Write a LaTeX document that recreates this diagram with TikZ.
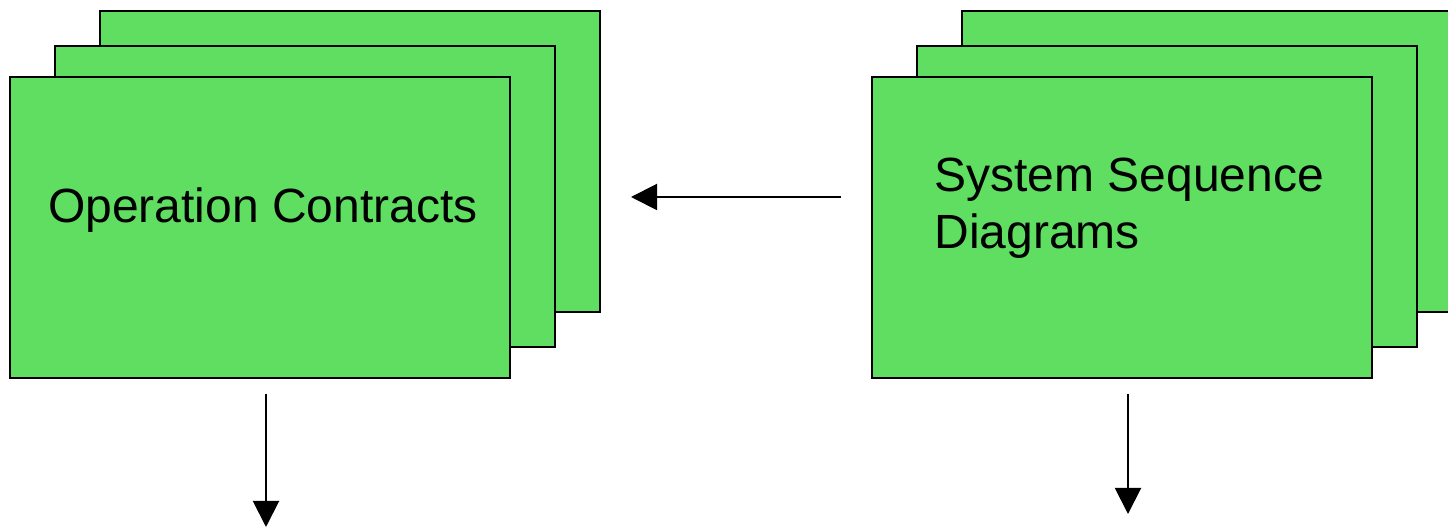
\documentclass[tikz,border=0pt]{standalone}
\usepackage{fontspec}
\setmainfont{Liberation Sans}
\usetikzlibrary{arrows.meta}
\definecolor{sheetgreen}{HTML}{5FDE62}

\begin{document}
\begin{tikzpicture}[x=0.5pt, y=-0.5pt,
  sheet/.style={draw, line width=1pt, fill=sheetgreen, minimum width=250pt, minimum height=150.5pt, inner sep=0pt},
  flow/.style={line width=1pt, -{Triangle[length=13pt, width=13pt]}},
  lbl/.style={font=\fontsize{24}{28.5}\selectfont, inner sep=0pt}]
  \useasboundingbox (0,0) rectangle (1448,528);
  \clip (0,0) rectangle (1448,528);
  % left stack of sheets
  \node[sheet] (oc3) at (350,162) {};
  \node[sheet] (oc2) at (305,197) {};
  \node[sheet] (oc1) at (260,228) {};
  \node[lbl, anchor=base] (oclbl) at (263,223) {Operation Contracts};
  % right stack of sheets
  \node[sheet] (ssd3) at (1212,162) {};
  \node[sheet] (ssd2) at (1167,197) {};
  \node[sheet] (ssd1) at (1122,228) {};
  \node[lbl, anchor=north west, align=left] (ssdlbl) at (934,158) {System Sequence\\Diagrams};
  % arrows
  \coordinate (ocout) at (266,527);
  \coordinate (ssdout) at (1128,514);
  \draw[flow] ([xshift=-15pt]ssd1.west |- ssd2.center) -- ([xshift=15pt]oc3.east |- oc2.center);
  \draw[flow] ([yshift=-7.5pt]oc1.south -| ocout) -- (ocout);
  \draw[flow] ([yshift=-7.5pt]ssd1.south -| ssdout) -- (ssdout);
\end{tikzpicture}
\end{document}
